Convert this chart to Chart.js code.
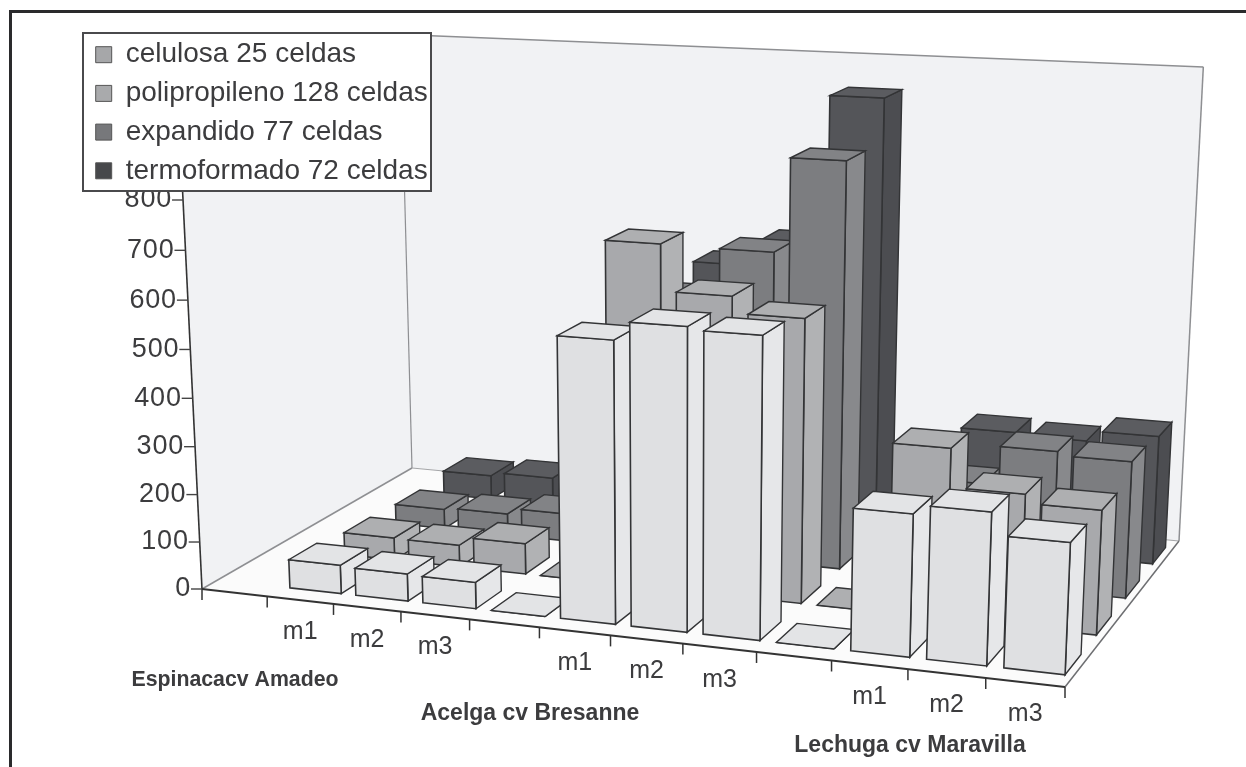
<!DOCTYPE html>
<html>
<head>
<meta charset="utf-8">
<script src="https://cdn.jsdelivr.net/npm/chart.js@4"></script>
<style>
  html, body { margin: 0; background: #fff; }
  #wrap { width: 1246px; height: 767px; }
</style>
</head>
<body>
<div id="wrap"><canvas id="chart" width="1246" height="767"></canvas></div>
<script>
// data, 12 slots on the front edge
const categories = ["", "m1", "m2", "m3", "", "m1", "m2", "m3", "", "m1", "m2", "m3"];
const seriesNames = ["celulosa 25 celdas", "polipropileno 128 celdas", "expandido 77 celdas", "termoformado 72 celdas"];
const celulosa = [null, 60, 57, 55, 0, 569, 606, 600, 0, 282, 300, 256];
const polipropileno = [null, 48, 47, 65, 0, 708, 614, 580, 0, 346, 268, 250];
const expandido = [null, 43, 47, 60, 0, 550, 654, 847, 0, 210, 290, 282];
const termoformado = [null, 54, 62, 70, 0, 570, 625, 936, 0, 255, 250, 272];
const yTicks = [0, 100, 200, 300, 400, 500, 600, 700, 800];
const groupLabels = ["Espinacacv Amadeo", "Acelga cv Bresanne", "Lechuga cv Maravilla"];

const groupLabelSpots = [[235, 680, 21.3], [530, 714, 23], [910, 746, 23]];
const legendSwatches = ["#a6a7a9", "#a9aaac", "#77787b", "#47484b"];
const faces = [
  { front: "#dfe0e2", top: "#e3e4e6", side: "#e6e7e9" },
  { front: "#a8a9ac", top: "#aeafb1", side: "#b1b2b4" },
  { front: "#7c7d80", top: "#828386", side: "#88898c" },
  { front: "#545559", top: "#5b5c60", side: "#4c4d51" }
];

// floor corners and the point the verticals run to (walls lean outwards)
const A = [202, 589], B = [1065, 687], C = [1179, 541], D = [412, 468];
const VP = [677, 10325];
const AXIS_800 = [183, 200];

function floorMatrix() {
  // unit square to quad: (0,0)=A (1,0)=B (1,1)=C (0,1)=D
  const dx1 = B[0] - C[0], dx2 = D[0] - C[0], sx = A[0] - B[0] + C[0] - D[0];
  const dy1 = B[1] - C[1], dy2 = D[1] - C[1], sy = A[1] - B[1] + C[1] - D[1];
  const det = dx1 * dy2 - dx2 * dy1;
  const g = (sx * dy2 - dx2 * sy) / det;
  const h = (dx1 * sy - sx * dy1) / det;
  return [
    B[0] - A[0] + g * B[0], D[0] - A[0] + h * D[0], A[0],
    B[1] - A[1] + g * B[1], D[1] - A[1] + h * D[1], A[1],
    g, h, 1
  ];
}
const M = floorMatrix();
// how much one full axis height weighs in the projection
const K = ((A[1] - AXIS_800[1]) / (AXIS_800[1] - VP[1])) / 0.8;

function project(u, d, v) {
  const x = M[0] * u + M[1] * d + M[2] + v * K * VP[0];
  const y = M[3] * u + M[4] * d + M[5] + v * K * VP[1];
  const w = M[6] * u + M[7] * d + M[8] + v * K;
  return [x / w, y / w];
}

function poly(ctx, pts, fill, stroke, lw) {
  ctx.beginPath();
  pts.forEach((p, i) => (i ? ctx.lineTo(p[0], p[1]) : ctx.moveTo(p[0], p[1])));
  ctx.closePath();
  if (fill) {
    ctx.fillStyle = fill;
    ctx.fill();
  }
  if (stroke) {
    ctx.strokeStyle = stroke;
    ctx.lineWidth = lw || 1;
    ctx.stroke();
  }
}

function seg(ctx, a, b, color, lw) {
  ctx.beginPath();
  ctx.moveTo(a[0], a[1]);
  ctx.lineTo(b[0], b[1]);
  ctx.strokeStyle = color;
  ctx.lineWidth = lw;
  ctx.stroke();
}

function drawWalls(ctx, chart) {
  const xs = chart.scales.x, ys = chart.scales.y;
  const Atop = project(0, 0, 1), Dtop = project(0, 1, 1), Ctop = project(1, 1, 1);
  poly(ctx, [A, D, Dtop, Atop], "#f1f2f4");
  poly(ctx, [D, C, Ctop, Dtop], "#f1f2f4");
  poly(ctx, [A, B, C, D], "#fbfbfb");
  seg(ctx, Dtop, Ctop, "#8e8f92", 1.5);
  seg(ctx, Ctop, C, "#8e8f92", 1.5);
  seg(ctx, Dtop, D, "#8e8f92", 1.2);
  seg(ctx, A, D, "#8e8f92", 1.5);
  seg(ctx, D, C, "#a5a6a8", 1.2);
  seg(ctx, B, C, "#6d6e71", 1.5);
  seg(ctx, A, Atop, "#333", 1.6);
  seg(ctx, A, B, "#333", 2);

  // front edge ticks
  for (let i = 0; i <= categories.length; i++) {
    const p = project(i / categories.length, 0, 0);
    seg(ctx, p, [p[0], p[1] + 11], "#333", 1.5);
  }
  // value axis follows the leaning corner
  ctx.font = "27px 'Liberation Sans'";
  ctx.letterSpacing = "0.8px";
  ctx.textAlign = "right";
  ctx.textBaseline = "middle";
  ctx.fillStyle = "#3c3c3e";
  ys.ticks.forEach((t) => {
    const v = (ys.getPixelForValue(0) - ys.getPixelForValue(t.value)) / ys.height;
    const p = project(0, 0, v);
    seg(ctx, p, [p[0] - 11, p[1]], "#444", 1.4);
    ctx.fillText(t.label, p[0] - 11, p[1]);
  });
  ctx.letterSpacing = "0px";
  // category labels
  ctx.font = "25px 'Liberation Sans'";
  ctx.textAlign = "center";
  categories.forEach((c, i) => {
    const u = (xs.getPixelForValue(i) - xs.left) / xs.width;
    const p = project(u, 0, 0);
    ctx.fillText(c, p[0], p[1] + 32);
  });
  groupLabels.forEach((g, i) => {
    ctx.font = "bold " + groupLabelSpots[i][2] + "px 'Liberation Sans'";
    ctx.fillText(g, groupLabelSpots[i][0], groupLabelSpots[i][1]);
  });
}

function drawBar(ctx, chart, el, row, count) {
  const xs = chart.scales.x, ys = chart.scales.y;
  const u0 = (el.x - el.width / 2 - xs.left) / xs.width;
  const u1 = (el.x + el.width / 2 - xs.left) / xs.width;
  const v = (el.base - el.y) / ys.height;
  const slot = 1 / count;
  const d0 = (row + 0.27) * slot, d1 = (row + 0.77) * slot;
  const f = faces[row];
  const fl = project(u0, d0, 0), fr = project(u1, d0, 0), br = project(u1, d1, 0);
  const tfl = project(u0, d0, v), tfr = project(u1, d0, v), tbr = project(u1, d1, v), tbl = project(u0, d1, v);
  const line = "#333436";
  poly(ctx, [fr, br, tbr, tfr], f.side, line, 1.4);
  poly(ctx, [fl, fr, tfr, tfl], f.front, line, 1.6);
  poly(ctx, [tfl, tfr, tbr, tbl], f.top, line, 1.4);
}

const bar3d = {
  id: "bar3d",
  // everything goes down before the library's legend layer
  beforeDraw(chart) {
    const ctx = chart.ctx;
    ctx.save();
    // page frame, open at the bottom and right
    ctx.fillStyle = "#2a2a2c";
    ctx.fillRect(9, 10, 1237, 3);
    ctx.fillRect(9, 10, 3, 757);
    drawWalls(ctx, chart);
    const count = chart.data.datasets.length;
    for (let row = count - 1; row >= 0; row--) {
      chart.getDatasetMeta(row).data.forEach((el, i) => {
        if (chart.data.datasets[row].data[i] !== null) drawBar(ctx, chart, el, row, count);
      });
    }
    ctx.fillStyle = "#fff";
    ctx.fillRect(83, 33, 348, 158);
    ctx.strokeStyle = "#4a4a4c";
    ctx.lineWidth = 2;
    ctx.strokeRect(83, 33, 348, 158);
    ctx.restore();
  },
  // flat library bars are replaced by the 3d ones above
  beforeDatasetsDraw() {
    return false;
  },
  afterLayout(chart) {
    chart.legend.left = 85;
    chart.legend.top = 30;
  }
};

new Chart(document.getElementById("chart"), {
  type: "bar",
  plugins: [bar3d],
  data: {
    labels: categories,
    datasets: [celulosa, polipropileno, expandido, termoformado].map((values, i) => ({
      label: seriesNames[i],
      data: values,
      backgroundColor: legendSwatches[i],
      borderColor: "#555",
      borderWidth: 1,
      grouped: false
    }))
  },
  options: {
    responsive: false,
    animation: false,
    events: [],
    datasets: { bar: { categoryPercentage: 1, barPercentage: 0.78 } },
    scales: {
      x: { display: false },
      y: {
        display: false,
        min: 0,
        max: 1000,
        afterBuildTicks: (scale) => {
          scale.ticks = yTicks.map((value) => ({ value, label: String(value) }));
        }
      }
    },
    plugins: {
      tooltip: { enabled: false },
      legend: {
        position: "chartArea",
        align: "start",
        labels: {
          color: "#3c3c3e",
          font: { family: "'Liberation Sans'", size: 28 },
          boxWidth: 16,
          boxHeight: 16,
          padding: 10.7
        }
      }
    }
  }
});
</script>
</body>
</html>
